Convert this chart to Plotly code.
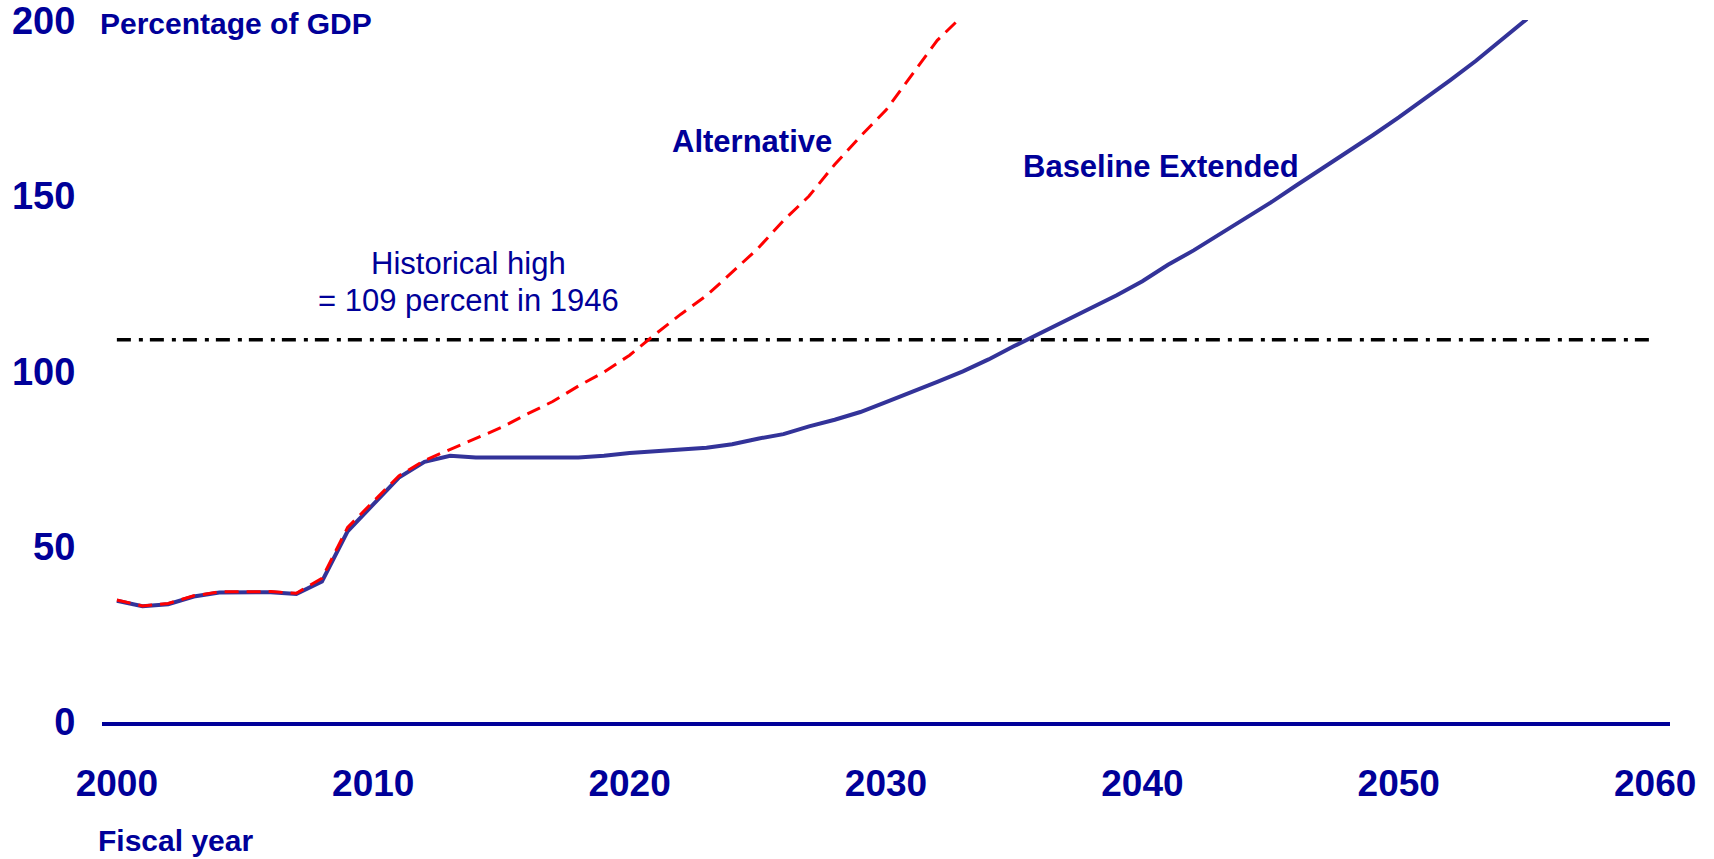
import plotly.graph_objects as go

# Federal debt held by the public, percentage of GDP, by fiscal year
years = list(range(2000, 2056))

baseline_extended = [
    34.6, 33.0, 33.6, 35.8, 36.9, 37.0, 37.0, 36.5, 40.1, 54.4,
    62.0, 69.7, 74.2, 75.9, 75.4, 75.4, 75.4, 75.4, 75.4, 75.9,
    76.7, 77.2, 77.7, 78.2, 79.2, 80.8, 82.1, 84.3, 86.2, 88.4,
    91.2, 94.0, 97.0, 100.0, 103.4, 107.2, 110.8, 114.2, 118.0, 121.7,
    125.7, 130.4, 134.5, 139.0, 143.6, 148.1, 153.0, 157.7, 162.4, 167.4,
    172.4, 177.6, 183.0, 188.5, 194.4, 200.5,
]

alt_years = list(range(2000, 2034))
alternative = [
    34.8, 33.1, 33.8, 36.0, 37.1, 37.2, 37.2, 36.7, 41.0, 55.5,
    63.0, 70.2, 74.6, 77.8, 80.8, 84.0, 87.8, 91.4, 95.8, 99.8,
    104.6, 110.6, 116.3, 121.6, 128.3, 135.0, 143.0, 150.0, 159.0, 167.0,
    174.5, 184.3, 194.4, 201.5,
]

historical_high = 109
ref_years = [2000, 2060]

y_ticks = [0, 50, 100, 150, 200]
x_ticks = [2000, 2010, 2020, 2030, 2040, 2050, 2060]

TEXT = "#000099"
FONT = "Liberation Sans, Arial, Helvetica, sans-serif"

fig = go.Figure()

fig.add_trace(go.Scatter(
    x=ref_years, y=[historical_high] * len(ref_years), mode="lines",
    line=dict(color="black", width=3.5, dash="14px,8px,4px,7px"),
    hoverinfo="skip",
))
fig.add_trace(go.Scatter(
    x=years, y=baseline_extended, mode="lines", name="Baseline Extended",
    line=dict(color="#333399", width=4),
))
fig.add_trace(go.Scatter(
    x=alt_years, y=alternative, mode="lines", name="Alternative",
    line=dict(color="#ff0000", width=3, dash="14px,8px"),
))

annotations = [
    dict(x=-0.0026, y=0.9957, xref="paper", yref="paper",
         text="<b>Percentage of GDP</b>", xanchor="left", font=dict(size=30)),
    dict(x=-0.0038, y=-0.1695, xref="paper", yref="paper",
         text="<b>Fiscal year</b>", xanchor="left", font=dict(size=30)),
    dict(x=2024.77, y=165.5, xref="x", yref="y",
         text="<b>Alternative</b>", xanchor="center", font=dict(size=31)),
    dict(x=2040.72, y=158.4, xref="x", yref="y",
         text="<b>Baseline Extended</b>", xanchor="center", font=dict(size=31)),
    dict(x=2013.71, y=130.8, xref="x", yref="y",
         text="Historical high", xanchor="center", font=dict(size=31)),
    dict(x=2013.71, y=120.1, xref="x", yref="y",
         text="= 109 percent in 1946", xanchor="center", font=dict(size=31)),
]
for a in annotations:
    a.update(yanchor="middle", showarrow=False)
    a["font"].update(family=FONT, color=TEXT)

fig.update_layout(
    width=1714, height=859,
    margin=dict(l=102, r=44, t=20, b=137),
    paper_bgcolor="white", plot_bgcolor="white",
    showlegend=False,
    annotations=annotations,
    font=dict(family=FONT, color=TEXT),
)
fig.update_xaxes(
    range=[1999.42, 2060.58], tickvals=x_ticks,
    ticktext=[f"<b>{v}</b>" for v in x_ticks],
    tickfont=dict(size=37, family=FONT, color=TEXT),
    showgrid=False, zeroline=False, automargin=False,
    showline=True, linecolor="#000099", linewidth=4,
    ticks="outside", ticklen=0, ticklabelstandoff=26,
)
fig.update_yaxes(
    range=[0, 200.2], tickvals=y_ticks,
    ticktext=[f"<b>{v}</b>" for v in y_ticks],
    tickfont=dict(size=38, family=FONT, color=TEXT),
    showgrid=False, zeroline=False, showline=False, automargin=False,
    ticks="outside", ticklen=0, ticklabelstandoff=18,
)

fig.write_html("out.html")
